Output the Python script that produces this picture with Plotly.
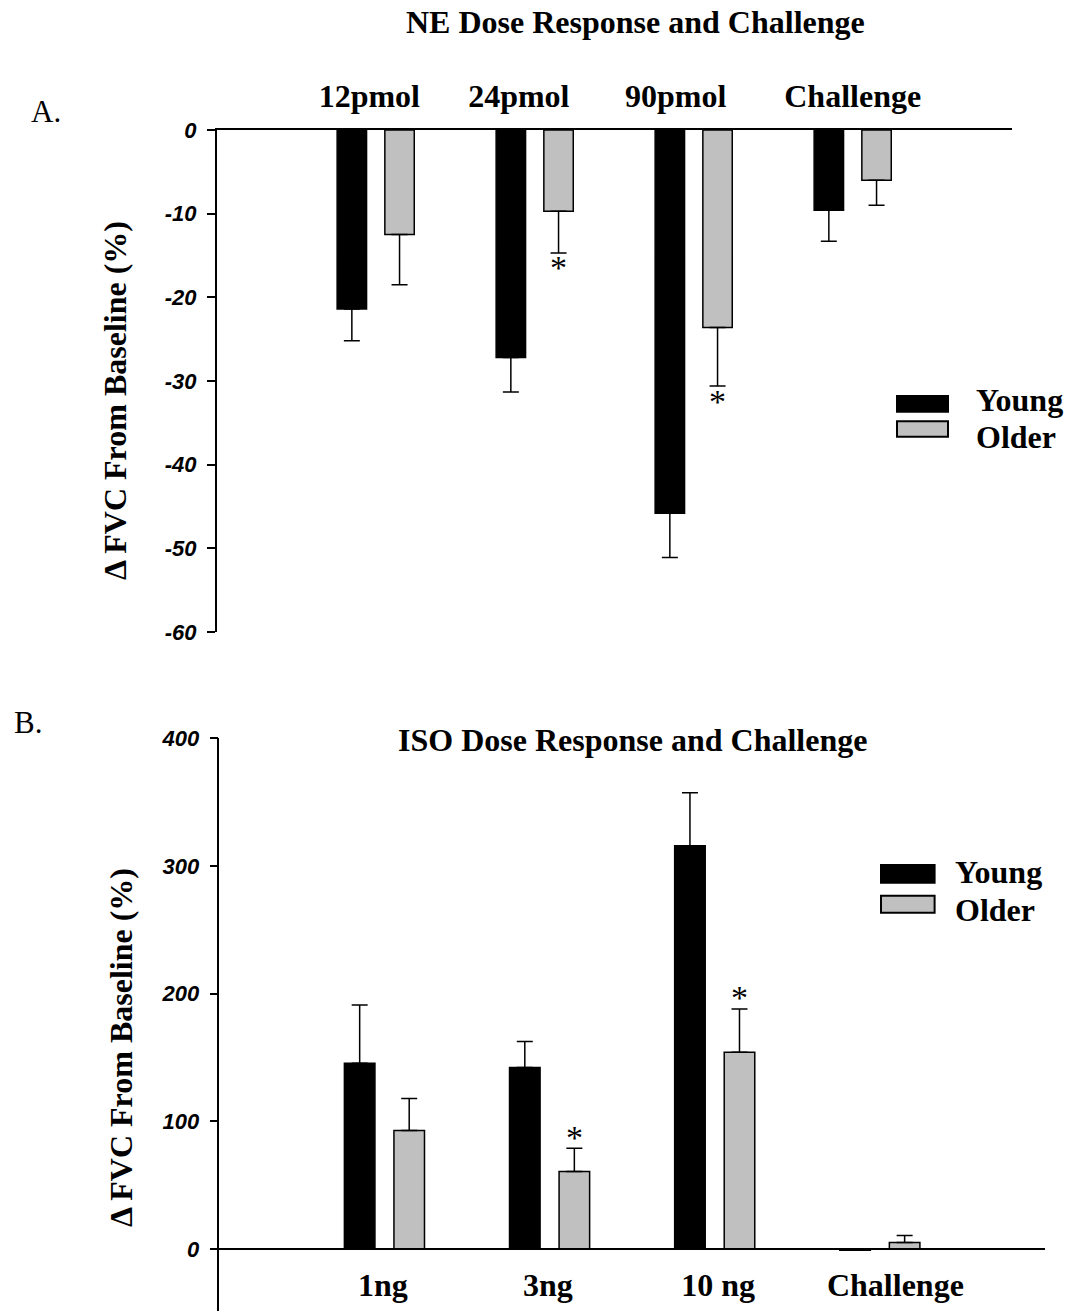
import plotly.graph_objects as go

# ---------------- data ----------------
cats_A = ["12pmol", "24pmol", "90pmol", "Challenge"]
young_A = [-21.4, -27.2, -45.8, -9.6]
young_A_err = [3.8, 4.1, 5.3, 3.7]
older_A = [-12.5, -9.7, -23.6, -6.0]
older_A_err = [6.0, 5.0, 7.0, 3.0]
sig_A = [False, True, True, False]
ticks_A = [0, -10, -20, -30, -40, -50, -60]

cats_B = ["1ng", "3ng", "10 ng", "Challenge"]
young_B = [145.6, 142.2, 315.9, -1.0]
young_B_err = [45.6, 20.3, 41.5, 0.0]
older_B = [92.8, 60.7, 154.2, 5.2]
older_B_err = [25.1, 18.3, 33.9, 5.4]
sig_B = [False, True, True, False]
ticks_B = [0, 100, 200, 300, 400]

groups = ["Young", "Older"]

# ---------------- layout helpers ----------------
W, H = 1071, 1311
def xp(px):
    return px / W
def yp(py):
    return 1 - py / H

SERIF = "Liberation Serif"
SANS = "Liberation Sans"
BLACK = "#000000"
GREY = "#c0c0c0"
OFF = 0.15
BW = 0.185

# small horizontal nudges of the category captions (as placed in the original)
label_nudge_A = [-0.04, -0.10, -0.113, 0.0]
label_nudge_B = [-0.01, -0.01, 0.02, 0.094]

yA_range = [-60, 0]
yB_range = [-48.5, 400]
domA_y = [yp(632), yp(130)]
domB_y = [0, yp(738.3)]
zero_pos_B = domB_y[0] + (0 - yB_range[0]) / (yB_range[1] - yB_range[0]) * (domB_y[1] - domB_y[0])

fig = go.Figure()

def add_bars(cats, young, yerr, older, oerr, xa, ya, down):
    idx = list(range(len(cats)))
    for name, vals, err, col, shift in [("Young", young, yerr, BLACK, -OFF),
                                         ("Older", older, oerr, GREY, OFF)]:
        ek = dict(type="data", symmetric=False, color=BLACK, thickness=1.5, width=8)
        if down:
            ek.update(array=[0] * len(err), arrayminus=err)
        else:
            ek.update(array=err, arrayminus=[0] * len(err))
        fig.add_trace(go.Bar(
            x=[i + shift for i in idx], y=vals, width=BW, name=name,
            marker=dict(color=col, line=dict(color=BLACK, width=1.5)),
            error_y=ek, xaxis=xa, yaxis=ya, showlegend=False))

add_bars(cats_A, young_A, young_A_err, older_A, older_A_err, "x", "y", True)
add_bars(cats_B, young_B, young_B_err, older_B, older_B_err, "x2", "y2", False)

annotations = []
star_font = dict(family=SERIF, size=34, color=BLACK)
for i, s in enumerate(sig_A):
    if s:
        annotations.append(dict(x=i + OFF, y=older_A[i] - older_A_err[i], xref="x", yref="y",
                                text="*", showarrow=False, yanchor="middle", yshift=-15,
                                font=star_font))
for i, s in enumerate(sig_B):
    if s:
        annotations.append(dict(x=i + OFF, y=older_B[i] + older_B_err[i], xref="x2", yref="y2",
                                text="*", showarrow=False, yanchor="middle", yshift=11,
                                font=star_font))

bold_serif = dict(family=SERIF, size=32, color=BLACK, weight="bold")

annotations += [
    dict(x=xp(635), y=yp(22), xref="paper", yref="paper", text="NE Dose Response and Challenge",
         showarrow=False, xanchor="center", yanchor="middle", font=bold_serif),
    dict(x=xp(632), y=yp(740), xref="paper", yref="paper", text="ISO Dose Response and Challenge",
         showarrow=False, xanchor="center", yanchor="middle", font=bold_serif),
    dict(x=xp(29), y=yp(112), xref="paper", yref="paper", text="A.",
         showarrow=False, xanchor="left", yanchor="middle", font=dict(family=SERIF, size=31, color=BLACK)),
    dict(x=xp(12), y=yp(722), xref="paper", yref="paper", text="B.",
         showarrow=False, xanchor="left", yanchor="middle", font=dict(family=SERIF, size=31, color=BLACK)),
    dict(x=xp(115), y=yp(400), xref="paper", yref="paper", text="Δ FVC From Baseline (%)",
         showarrow=False, textangle=-90, xanchor="center", yanchor="middle", font=bold_serif),
    dict(x=xp(121), y=yp(1048), xref="paper", yref="paper", text="Δ FVC From Baseline (%)",
         showarrow=False, textangle=-90, xanchor="center", yanchor="middle", font=bold_serif),
]

shapes = []
def legend(x0, x1, rects, text_x, text_ys):
    for (y0, y1), col, name, ty in zip(rects, [BLACK, GREY], groups, text_ys):
        shapes.append(dict(type="rect", xref="paper", yref="paper", x0=xp(x0), x1=xp(x1),
                           y0=yp(y1), y1=yp(y0), fillcolor=col, line=dict(color=BLACK, width=2)))
        annotations.append(dict(x=xp(text_x), y=yp(ty), xref="paper", yref="paper", text=name,
                                showarrow=False, xanchor="left", yanchor="middle", font=bold_serif))

legend(897, 948, [(396, 411.7), (421.3, 436.7)], 974, [400, 437])
legend(881, 934.6, [(865, 882.7), (895.7, 912.7)], 953, [872, 910])

tickfont_num = dict(family=SANS, size=22, color=BLACK, weight="bold", style="italic")
catfont = dict(family=SERIF, size=32, color=BLACK, weight="bold")

fig.update_layout(
    width=W, height=H, autosize=False,
    margin=dict(l=0, r=0, t=0, b=0, pad=0),
    paper_bgcolor="white", plot_bgcolor="white",
    barmode="overlay", showlegend=False,
    annotations=annotations, shapes=shapes,
    xaxis=dict(domain=[xp(216.7), xp(1011.7)], range=[-1, 4], side="top", anchor="y",
               automargin=False,
               tickvals=[i + d for i, d in enumerate(label_nudge_A)], ticktext=cats_A, ticks="",
               ticklabelstandoff=8, tickfont=catfont,
               showline=True, linecolor=BLACK, linewidth=2, showgrid=False, zeroline=False),
    yaxis=dict(domain=domA_y, range=yA_range, anchor="x", automargin=False,
               tickvals=ticks_A, ticktext=[str(t) for t in ticks_A],
               ticks="outside", ticklen=8, tickwidth=1.5, tickcolor=BLACK, ticklabelstandoff=6,
               tickfont=tickfont_num,
               showline=True, linecolor=BLACK, linewidth=1.5, showgrid=False, zeroline=False),
    xaxis2=dict(domain=[xp(219.3), xp(1045)], range=[-1, 4], anchor="free", position=zero_pos_B,
                automargin=False,
                tickvals=[i + d for i, d in enumerate(label_nudge_B)], ticktext=cats_B,
                ticks="", ticklabelstandoff=8, tickfont=catfont,
                showline=True, linecolor=BLACK, linewidth=2, showgrid=False, zeroline=False),
    yaxis2=dict(domain=domB_y, range=yB_range, anchor="x2", automargin=False,
                tickvals=ticks_B, ticktext=[str(t) for t in ticks_B],
                ticks="outside", ticklen=8, tickwidth=1.5, tickcolor=BLACK, ticklabelstandoff=6,
                tickfont=tickfont_num,
                showline=True, linecolor=BLACK, linewidth=1.5, showgrid=False, zeroline=False),
)

fig.write_html("out.html")
